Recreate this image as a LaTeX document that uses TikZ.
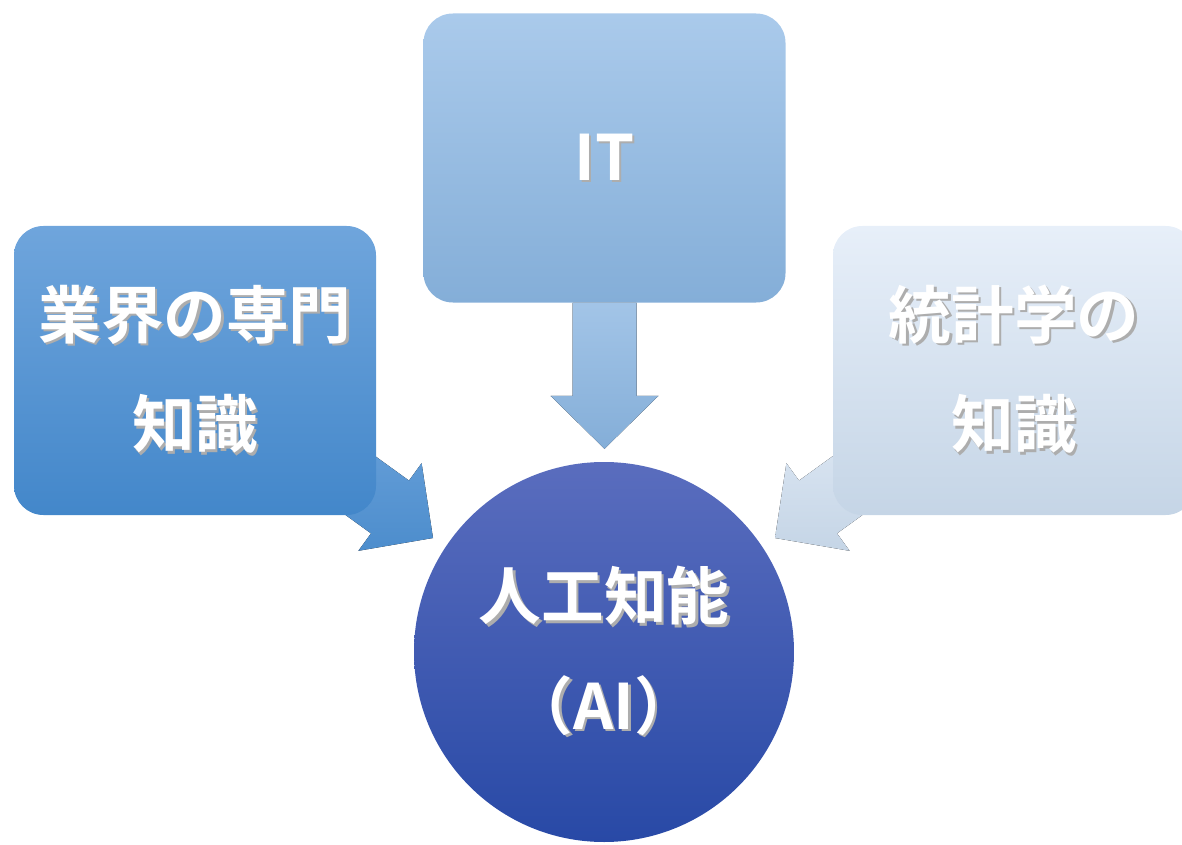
\documentclass[tikz,border=0pt]{standalone}
\usepackage{fontspec}
\setmainfont{Noto Sans CJK JP}[BoldFont={* Bold}]
\usetikzlibrary{positioning}

\definecolor{gyoTop}{HTML}{6FA5DC}
\definecolor{gyoBot}{HTML}{4387CA}
\definecolor{itTop}{HTML}{AACAEB}
\definecolor{itBot}{HTML}{84AED8}
\definecolor{stTop}{HTML}{E7EFF9}
\definecolor{stBot}{HTML}{C5D5E6}
\definecolor{aiTop}{HTML}{5A6DBE}
\definecolor{aiBot}{HTML}{2849A6}

% white text with a soft drop shadow
\newcommand{\shline}[1]{\makebox[0pt][l]{\hspace{1.8pt}\raisebox{-1.8pt}{\color{black!32}#1}}#1}

\begin{document}
\begin{tikzpicture}[x=0.75pt,y=-0.75pt,
	box/.style={rounded corners=22pt,minimum width=271.5pt,minimum height=216.75pt,
		text=white,align=center,font=\bfseries\fontsize{47}{82}\selectfont}]
	\useasboundingbox (0,0) rectangle (1182,845);
	\clip (0,0) rectangle (1182,845);
	% arrows behind the boxes
	\fill[top color=gyoTop!85!gyoBot,bottom color=gyoBot!95!white] (290,474.9) -- (328,422) -- (409,480.6) -- (421.6,463.2) -- (433,538) -- (358.4,550.8) -- (371,533.4) -- cycle;
	\fill[top color=stTop!70!stBot,bottom color=stBot] (918,474.9) -- (880,422) -- (799,480.6) -- (786.4,463.2) -- (775,538) -- (849.6,550.8) -- (837,533.4) -- cycle;
	% boxes
	\node[box,top color=gyoTop,bottom color=gyoBot] (gyokai) at (195,370.5) {\raisebox{3pt}{\shline{業界の専門}}\\\raisebox{3pt}{\shline{知識}}};
	\node[box,top color=itTop,bottom color=itBot] (it) at (604.5,158) {\shline{IT}};
	\node[box,top color=stTop,bottom color=stBot] (toukei) at (1014,370.5) {\raisebox{3pt}{\shline{統計学の}}\\\raisebox{3pt}{\shline{知識}}};
	\fill[top color=itTop!80!itBot,bottom color=itBot] (it.south) ++(-32,0) -- ++(0,93) -- ++(-22,0) -- ++(54,53) -- ++(54,-53) -- ++(-22,0) -- ++(0,-93) -- cycle;
	% circle
	\node[circle,minimum size=285pt,top color=aiTop,bottom color=aiBot,text=white,align=center,
		font=\bfseries\fontsize{47}{82}\selectfont] (ai) at (604,652) {\shline{人工知能}\\\shline{（AI）}};
\end{tikzpicture}
\end{document}
